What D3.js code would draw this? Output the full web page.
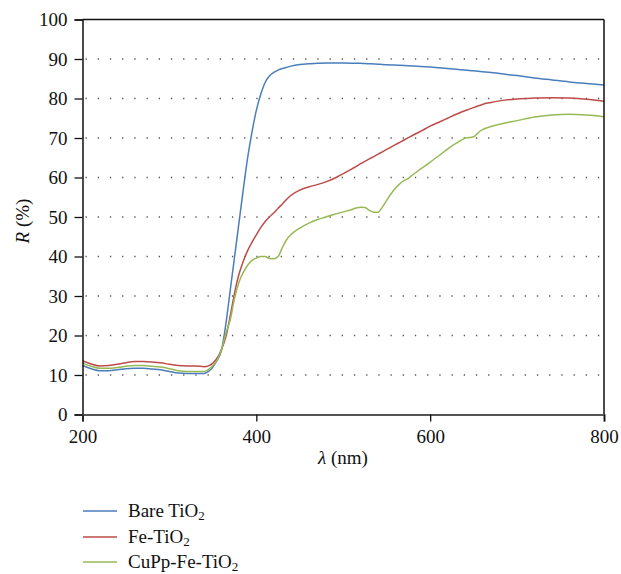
<!DOCTYPE html>
<html>
<head>
<meta charset="utf-8">
<script src="https://cdn.jsdelivr.net/npm/d3@7"></script>
<style>
  html, body { margin: 0; padding: 0; background: #fff; }
  svg { display: block; }
</style>
</head>
<body>
<svg id="chart" width="621" height="574"></svg>
<script>
// Wavelength grid (nm)
const wavelengths = [200,210,220,230,240,250,260,270,280,290,300,310,320,330,340,
  345,350,355,360,365,370,375,380,385,390,395,400,405,410,415,420,425,430,435,440,
  450,460,470,480,490,500,510,
  515,520,525,530,535,540,545,550,555,560,565,570,575,580,
  590,600,610,620,630,640,
  645,650,655,660,
  670,680,
  700,720,740,760,780,800];

// Diffuse reflectance R (%) for each sample
const bareTiO2 = [12.4,11.6,11.1,11.1,11.3,11.6,11.7,11.7,11.5,11.3,10.9,10.5,10.4,10.4,10.4,
  10.9,12.0,13.8,16.3,23.0,31.5,40.0,48.5,57.0,65.0,71.5,77.0,81.0,84.0,85.7,86.6,87.2,87.6,87.9,88.2,
  88.6,88.8,88.9,89.0,89.0,89.0,88.95,
  88.9,88.9,88.85,88.8,88.75,88.7,88.6,88.55,88.5,88.45,88.4,88.35,88.3,88.25,
  88.1,88.0,87.8,87.6,87.4,87.2,
  87.1,87.0,86.9,86.8,
  86.6,86.3,
  85.8,85.2,84.7,84.2,83.8,83.4];

const feTiO2 = [13.6,12.8,12.3,12.4,12.7,13.1,13.4,13.4,13.3,13.1,12.7,12.4,12.3,12.3,12.1,
  12.3,13.0,14.3,16.5,19.7,25.0,30.8,35.5,38.8,41.5,43.6,45.5,47.3,48.8,50.0,51.0,52.2,53.3,54.5,55.5,
  56.8,57.6,58.2,58.9,59.8,61.0,62.2,
  62.8,63.5,64.1,64.7,65.3,65.9,66.5,67.1,67.7,68.3,68.9,69.5,70.1,70.7,
  71.8,73.0,74.0,75.0,76.0,76.9,
  77.3,77.7,78.1,78.5,
  79.0,79.4,
  79.9,80.1,80.2,80.1,79.8,79.3];

const cuppFeTiO2 = [13.0,12.2,11.7,11.7,11.9,12.2,12.4,12.4,12.2,12.0,11.6,11.1,10.9,10.9,10.9,
  11.4,12.4,13.8,16.5,20.6,24.0,29.5,33.5,36.0,37.8,39.0,39.6,40.0,40.0,39.5,39.4,40.0,42.3,44.3,45.6,
  47.2,48.4,49.3,50.0,50.7,51.3,51.9,
  52.3,52.5,52.4,51.7,51.2,51.2,52.5,54.2,55.9,57.3,58.4,59.2,59.8,60.7,
  62.3,63.9,65.5,67.2,68.7,69.9,
  70.1,70.3,71.3,72.1,
  72.9,73.5,
  74.4,75.3,75.8,76.0,75.8,75.4];

const xTicks = [200, 400, 600, 800];
const yTicks = [0, 10, 20, 30, 40, 50, 60, 70, 80, 90, 100];
const gridValues = [10, 20, 30, 40, 50, 60, 70, 80, 90];

const seriesNames = ["Bare TiO", "Fe-TiO", "CuPp-Fe-TiO"];
const seriesColors = ["#4A7EBB", "#BE4B48", "#98B954"];
const seriesValues = [bareTiO2, feTiO2, cuppFeTiO2];

const SERIF = '"Liberation Serif", "Times New Roman", serif';

const svg = d3.select("#chart");

const x = d3.scaleLinear().domain([200, 800]).range([82.5, 604]);
const y = d3.scaleLinear().domain([0, 100]).range([414.5, 19.5]);

// Dotted horizontal gridlines
svg.append("g")
  .selectAll("line")
  .data(gridValues)
  .join("line")
  .attr("x1", x(200) + 3)
  .attr("x2", x(800) - 2)
  .attr("y1", d => y(d))
  .attr("y2", d => y(d))
  .attr("stroke", "#555")
  .attr("stroke-width", 1.3)
  .attr("stroke-dasharray", "1.3 10.9");

// Curves
const line = d3.line()
  .x(d => x(d[0]))
  .y(d => y(d[1]))
  .curve(d3.curveMonotoneX);

svg.append("g")
  .selectAll("path")
  .data(seriesValues)
  .join("path")
  .attr("d", vals => line(wavelengths.map((w, i) => [w, vals[i]])))
  .attr("fill", "none")
  .attr("stroke", (d, i) => seriesColors[i])
  .attr("stroke-width", 1.5)
  .attr("stroke-linejoin", "round");

// Frame: top and right borders
svg.append("line")
  .attr("x1", x(200)).attr("x2", x(800))
  .attr("y1", y(100)).attr("y2", y(100))
  .attr("stroke", "#111").attr("stroke-width", 1.5);
svg.append("line")
  .attr("x1", x(800)).attr("x2", x(800))
  .attr("y1", y(100)).attr("y2", y(0))
  .attr("stroke", "#111").attr("stroke-width", 1.5);

// Y axis
const yAxis = svg.append("g")
  .attr("transform", `translate(${x(200)},0)`)
  .call(d3.axisLeft(y).tickValues(yTicks).tickSize(8).tickPadding(7).tickFormat(d3.format("d")))
  .attr("font-family", null);
yAxis.select(".domain").attr("stroke", "#111").attr("stroke-width", 1.5);
yAxis.selectAll(".tick line").attr("stroke", "#111").attr("stroke-width", 1.3);
yAxis.selectAll(".tick text")
  .style("font-family", SERIF)
  .style("font-size", "19px").attr("fill", "#111");

// X axis
const xAxis = svg.append("g")
  .attr("transform", `translate(0,${y(0)})`)
  .call(d3.axisBottom(x).tickValues(xTicks).tickSize(7).tickPadding(8).tickFormat(d3.format("d")))
  .attr("font-family", null);
xAxis.select(".domain").attr("stroke", "#555").attr("stroke-width", 2);
xAxis.selectAll(".tick line").attr("stroke", "#111").attr("stroke-width", 1.3);
xAxis.selectAll(".tick text")
  .style("font-family", SERIF)
  .style("font-size", "19px").attr("fill", "#111");

// Axis titles
const xTitle = svg.append("text")
  .attr("x", 343).attr("y", 464)
  .attr("text-anchor", "middle")
  .style("font-family", SERIF).style("font-size", "19px").attr("fill", "#111");
xTitle.append("tspan").style("font-style", "italic").text("λ");
xTitle.append("tspan").text(" (nm)");

const yTitle = svg.append("text")
  .attr("transform", "translate(29,221) rotate(-90)")
  .attr("text-anchor", "middle")
  .style("font-family", SERIF).style("font-size", "19px").attr("fill", "#111");
yTitle.append("tspan").style("font-style", "italic").text("R");
yTitle.append("tspan").text(" (%)");

// Legend
const legendRows = [511, 537, 562];
const legend = svg.append("g");
seriesNames.forEach((name, i) => {
  const ly = legendRows[i];
  legend.append("line")
    .attr("x1", 83).attr("x2", 117)
    .attr("y1", ly).attr("y2", ly)
    .attr("stroke", seriesColors[i]).attr("stroke-width", 1.5);
  const t = legend.append("text")
    .attr("x", 128).attr("y", ly + 6)
    .style("font-family", SERIF).style("font-size", "19px").attr("fill", "#111");
  t.append("tspan").text(name);
  t.append("tspan").attr("dy", 3).style("font-size", "13px").text("2");
});
</script>
</body>
</html>
